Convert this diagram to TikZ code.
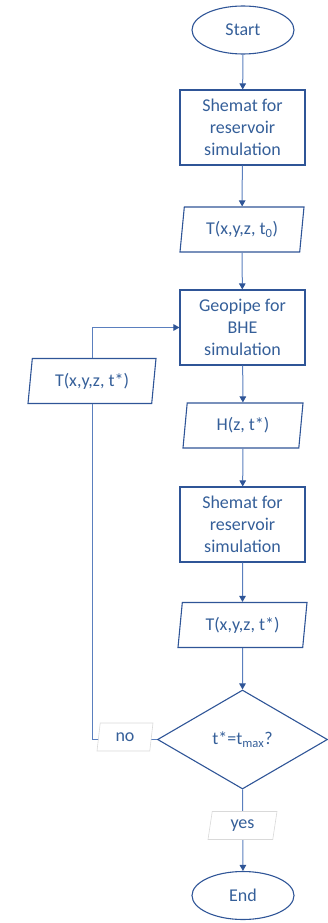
\documentclass[tikz,border=0pt]{standalone}
\usepackage{fontspec}
\setmainfont{Carlito}
\usetikzlibrary{shapes.geometric,arrows.meta}
\definecolor{bord}{HTML}{2F5597}
\definecolor{txt}{HTML}{355F99}
\definecolor{conn}{HTML}{5A7FBE}
\definecolor{lab}{HTML}{D9D9D9}
\begin{document}
\begin{tikzpicture}[x=1pt,y=-1pt,
  every node/.style={font=\fontsize{18}{22}\selectfont, text=txt, align=center, inner sep=0pt},
  term/.style={ellipse, draw=bord, line width=1.1pt, minimum width=102, minimum height=48},
  proc/.style={rectangle, draw=bord, line width=1.1pt, minimum width=125, minimum height=75},
  io/.style={trapezium, trapezium left angle=75, trapezium right angle=105, trapezium stretches body=true,
     draw=bord, line width=1.1pt, minimum width=124, minimum height=45},
  decis/.style={diamond, draw=bord, line width=1.1pt, minimum width=170, minimum height=99, aspect=1.7},
  lbl/.style={trapezium, trapezium left angle=70, trapezium right angle=110, trapezium stretches body=true,
     draw=lab, line width=0.6pt, fill=white, minimum height=28},
  flow/.style={draw=conn, line width=1pt, -{Triangle[width=6.5pt,length=6pt,color=bord]}},
  plain/.style={draw=conn, line width=1pt}]
\useasboundingbox (0,0) rectangle (327,923);
\node[term] (start) at (243,30) {Start};
\node[proc] (sim1) at (242.5,127.5) {Shemat for\\reservoir\\simulation};
\node[io] (t0) at (242,229.5) {T(x,y,z, t\textsubscript{0})};
\node[proc] (geo) at (242.5,327.5) {Geopipe for\\BHE\\simulation};
\node[io, minimum width=120] (h) at (243,425.5) {H(z, t*)};
\node[proc] (sim2) at (242.5,524.5) {Shemat for\\reservoir\\simulation};
\node[io, minimum width=129] (ts) at (242.5,625) {T(x,y,z, t*)};
\node[decis] (dec) at (242.5,739.5) {t*=t\textsubscript{max}?};
\node[term] (end) at (243,895.5) {End};
\node[io, minimum width=128] (tl) at (92,381) {T(x,y,z, t*)};

\draw[flow] (start) -- (sim1);
\draw[flow] (sim1) -- (t0);
\draw[flow] (t0) -- (geo);
\draw[flow] (geo) -- (h);
\draw[flow] (h) -- (sim2);
\draw[flow] (sim2) -- (ts);
\draw[flow] (ts) -- (dec);
\draw[flow] (dec) -- (end);
\draw[plain] (dec.west) -| (tl.south);
\draw[flow] (tl.north) |- (geo.west);

\node[lbl, minimum width=56] (no) at (125,737) {no};
\node[lbl, minimum width=69] (yes) at (242.5,825.5) {yes};
\end{tikzpicture}
\end{document}
